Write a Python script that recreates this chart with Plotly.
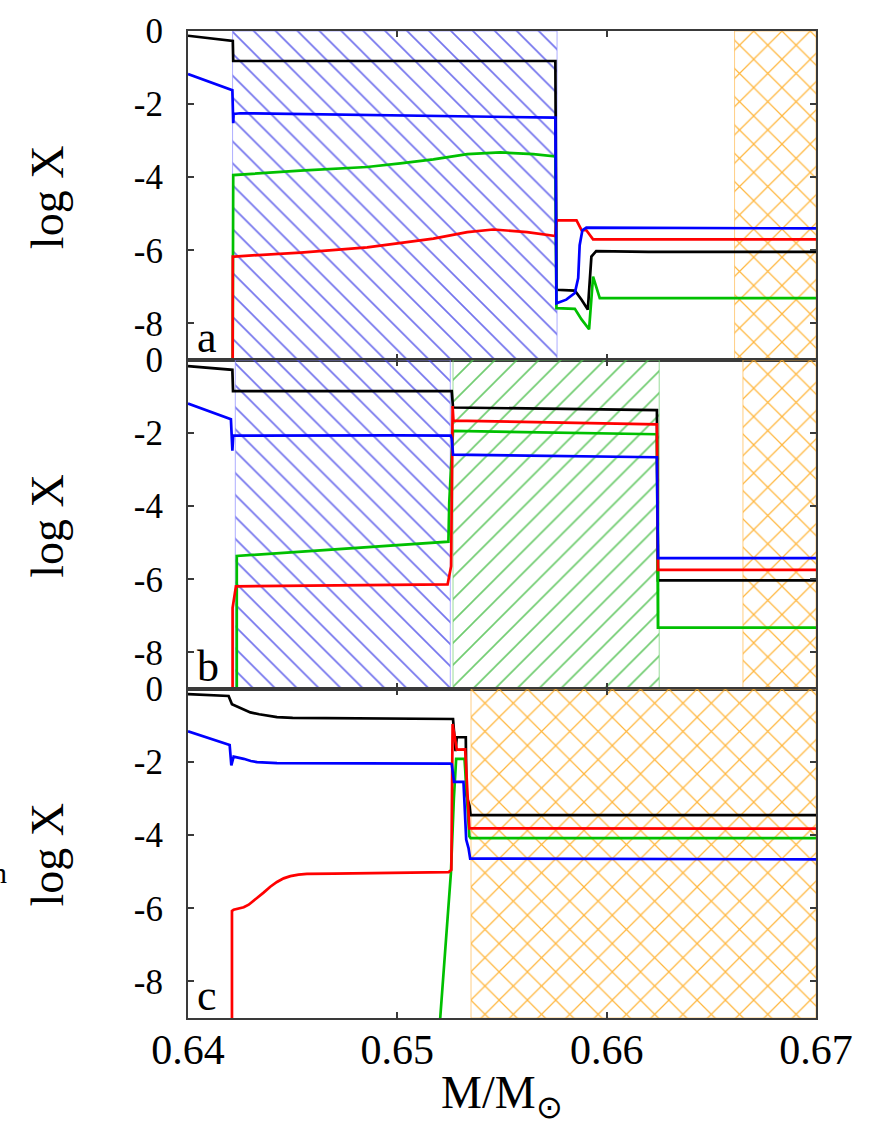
import plotly.graph_objects as go
from plotly.subplots import make_subplots

# ---- panel a: mass coordinate (M/Msun) and log X of each species ----
a_m_black = [0.6400, 0.64214, 0.64216, 0.6450, 0.6500, 0.65755, 0.6576, 0.65848, 0.6588, 0.6591, 0.65927, 0.6595, 0.6620, 0.6700]
a_x_black = [-0.13, -0.27, -0.82, -0.82, -0.82, -0.82, -7.08, -7.10, -7.35, -7.62, -6.17, -6.02, -6.04, -6.04]
a_m_blue = [0.6400, 0.64212, 0.64216, 0.64218, 0.6425, 0.6500, 0.65755, 0.6576, 0.65807, 0.65848, 0.65864, 0.65871, 0.65884, 0.65903, 0.6700]
a_x_blue = [-1.18, -1.62, -2.52, -2.27, -2.25, -2.30, -2.37, -7.45, -7.35, -7.17, -6.76, -5.86, -5.45, -5.38, -5.40]
a_m_red = [0.64213, 0.64214, 0.6422, 0.64538, 0.64856, 0.65014, 0.65172, 0.65334, 0.65458, 0.6562, 0.65755, 0.6576, 0.65856, 0.6588, 0.65903, 0.65935, 0.6700]
a_x_red = [-10.0, -6.17, -6.17, -6.06, -5.92, -5.79, -5.68, -5.50, -5.43, -5.50, -5.61, -5.18, -5.18, -5.45, -5.45, -5.70, -5.70]
a_m_green = [0.64213, 0.64216, 0.64536, 0.64855, 0.65014, 0.65172, 0.65334, 0.65492, 0.6565, 0.65755, 0.6576, 0.65848, 0.6588, 0.65916, 0.65935, 0.65967, 0.6700]
a_x_green = [-10.0, -3.94, -3.82, -3.72, -3.62, -3.51, -3.37, -3.32, -3.37, -3.43, -7.58, -7.60, -7.89, -8.16, -6.72, -7.31, -7.31]

# ---- panel b ----
b_m_black = [0.6400, 0.64197, 0.64212, 0.64215, 0.6526, 0.65266, 0.6624, 0.66245, 0.6700]
b_x_black = [-0.17, -0.26, -0.27, -0.85, -0.85, -1.30, -1.37, -6.03, -6.03]
b_m_blue = [0.6400, 0.64205, 0.64212, 0.64216, 0.6500, 0.65255, 0.6526, 0.65266, 0.6624, 0.66245, 0.6700]
b_x_blue = [-1.19, -1.62, -2.48, -2.07, -2.06, -2.07, -2.15, -2.59, -2.66, -5.42, -5.42]
b_m_red = [0.64213, 0.64213, 0.64229, 0.6524, 0.65257, 0.65264, 0.65268, 0.6624, 0.66245, 0.6700]
b_x_red = [-10.0, -6.78, -6.19, -6.14, -5.64, -1.26, -1.66, -1.76, -5.74, -5.74]
b_m_green = [0.64233, 0.64233, 0.65244, 0.65248, 0.65256, 0.65266, 0.6624, 0.66245, 0.6700]
b_x_green = [-10.0, -5.36, -4.97, -3.90, -3.00, -1.94, -2.03, -7.32, -7.32]

# ---- panel c ----
c_m_black = [0.6400, 0.64194, 0.6421, 0.64235, 0.64266, 0.64298, 0.6434, 0.64377, 0.64425, 0.6450, 0.65173, 0.65266, 0.65278, 0.65284, 0.65327, 0.6533, 0.65345, 0.6535, 0.6700]
c_x_black = [-0.14, -0.19, -0.42, -0.48, -0.55, -0.64, -0.69, -0.73, -0.77, -0.79, -0.81, -0.82, -1.70, -1.32, -1.32, -2.90, -3.20, -3.45, -3.45]
c_m_blue = [0.6400, 0.64199, 0.64207, 0.64218, 0.64266, 0.643, 0.6433, 0.64425, 0.65253, 0.6526, 0.65271, 0.65316, 0.65329, 0.6534, 0.65348, 0.6700]
c_x_blue = [-1.16, -1.53, -2.09, -1.85, -1.91, -1.97, -2.00, -2.03, -2.04, -2.06, -2.54, -2.54, -4.12, -4.35, -4.64, -4.66]
c_m_red = [0.6421, 0.6421, 0.64218, 0.64245, 0.64266, 0.6429, 0.64313, 0.64337, 0.64361, 0.64393, 0.64425, 0.64457, 0.64489, 0.64528, 0.64568, 0.64696, 0.65245, 0.65258, 0.65264, 0.65284, 0.65324, 0.65344, 0.6700]
c_x_red = [-10.0, -6.07, -6.04, -6.01, -5.97, -5.90, -5.80, -5.69, -5.57, -5.41, -5.28, -5.18, -5.12, -5.08, -5.06, -5.05, -5.01, -4.95, -0.96, -1.66, -1.65, -3.81, -3.82]
c_m_green = [0.65192, 0.65256, 0.6527, 0.65281, 0.65321, 0.65344, 0.6535, 0.6700]
c_x_green = [-10.0, -5.03, -3.0, -1.91, -1.91, -4.03, -4.08, -4.08]

# ---- hatched zones: [inner edge, outer edge] in M/Msun ----
a_zone_blue = [0.64213, 0.65763]
a_zone_orange = [0.66611, 0.6700]
b_zone_blue = [0.64226, 0.65253]
b_zone_green = [0.65266, 0.66251]
b_zone_orange = [0.66651, 0.6700]
c_zone_orange = [0.65352, 0.6700]

# ---- axes ----
m_range = [0.64, 0.67]
logx_range = [-9.0, 0.0]
y_ticks = [-8, -6, -4, -2, 0]
y_tick_text = ["-8", "-6", "-4", "-2", "0"]
x_ticks = [0.64, 0.65, 0.66, 0.67]
x_tick_text = ["0.64", "0.65", "0.66", "0.67"]
panel_tags = ["a", "b", "c"]

SERIF = "Liberation Serif"
FRAME = "#3a3a3a"
COLORS = {"black": "#000000", "blue": "#0000ff", "red": "#ff0000", "green": "#00c000"}

HATCH = {
    "blue": dict(shape="\\", fgcolor="#3c3ce6", size=15.5, solidity=0.11, opacity=0.72, edge="rgba(140,140,255,0.7)"),
    "green": dict(shape="/", fgcolor="#4cc04c", size=15.5, solidity=0.11, opacity=0.8, edge="rgba(110,205,110,0.7)"),
    "orange": dict(shape="x", fgcolor="#ffaa1e", size=20, solidity=0.12, opacity=0.85, edge="rgba(255,185,80,0.7)"),
}

fig = make_subplots(rows=3, cols=1, shared_xaxes=True, vertical_spacing=0)


def add_zone(row, zone, kind):
    h = HATCH[kind]
    x0, x1 = zone
    fig.add_trace(go.Scatter(
        x=[x0, x1, x1, x0, x0],
        y=[logx_range[0], logx_range[0], logx_range[1], logx_range[1], logx_range[0]],
        mode="lines", fill="toself", fillcolor="rgba(0,0,0,0)",
        fillpattern=dict(shape=h["shape"], fgcolor=h["fgcolor"], bgcolor="rgba(0,0,0,0)",
                         size=h["size"], solidity=h["solidity"], fgopacity=h["opacity"]),
        line=dict(color=h["edge"], width=1),
        hoverinfo="skip", showlegend=False), row=row, col=1)


def add_profile(row, m, x, color):
    fig.add_trace(go.Scatter(
        x=m, y=x, mode="lines",
        line=dict(color=COLORS[color], width=2.7),
        showlegend=False), row=row, col=1)


add_zone(1, a_zone_blue, "blue")
add_zone(1, a_zone_orange, "orange")
add_zone(2, b_zone_blue, "blue")
add_zone(2, b_zone_green, "green")
add_zone(2, b_zone_orange, "orange")
add_zone(3, c_zone_orange, "orange")

panels = [
    (1, a_m_black, a_x_black, a_m_green, a_x_green, a_m_red, a_x_red, a_m_blue, a_x_blue),
    (2, b_m_black, b_x_black, b_m_green, b_x_green, b_m_red, b_x_red, b_m_blue, b_x_blue),
    (3, c_m_black, c_x_black, c_m_green, c_x_green, c_m_red, c_x_red, c_m_blue, c_x_blue),
]
for row, mk, xk, mg, xg, mr, xr, mb, xb in panels:
    add_profile(row, mk, xk, "black")
    add_profile(row, mg, xg, "green")
    add_profile(row, mr, xr, "red")
    add_profile(row, mb, xb, "blue")

for row in (1, 2, 3):
    fig.update_xaxes(
        range=m_range, tickvals=x_ticks, ticktext=x_tick_text,
        showticklabels=(row == 3), ticks="inside", ticklen=6, tickwidth=1.5,
        tickcolor=FRAME, showline=True, linecolor=FRAME, linewidth=2,
        mirror="ticks", showgrid=False, zeroline=False,
        tickfont=dict(family=SERIF, size=42, color="#000"),
        ticklabelstandoff=-6, row=row, col=1)
    fig.update_yaxes(
        range=logx_range, tickvals=y_ticks, ticktext=y_tick_text,
        ticks="inside", ticklen=6, tickwidth=1.5, tickcolor=FRAME,
        showline=True, linecolor=FRAME, linewidth=2, mirror="ticks",
        showgrid=False, zeroline=False,
        tickfont=dict(family=SERIF, size=35, color="#000"),
        ticklabelstandoff=16, row=row, col=1)

annotations = []
label_y = [0.832, 0.499, 0.166]
tag_y = [0.6626, 0.3293, -0.004]
for i in range(3):
    annotations.append(dict(
        text="log X", textangle=-90, x=-0.224, y=label_y[i],
        xref="paper", yref="paper", xanchor="center", yanchor="middle",
        showarrow=False, font=dict(family=SERIF, size=46, color="#000")))
    annotations.append(dict(
        text=panel_tags[i], x=0.011, y=tag_y[i], xref="paper", yref="paper",
        xanchor="left", yanchor="bottom", showarrow=False,
        font=dict(family=SERIF, size=44, color="#000")))
annotations.append(dict(
    text="M/M<sub>⊙</sub>", x=0.5, y=-0.079, xref="paper", yref="paper",
    xanchor="center", yanchor="middle", showarrow=False,
    font=dict(family=SERIF, size=46, color="#000")))
annotations.append(dict(
    text="n", x=-0.285, y=0.147, xref="paper", yref="paper",
    xanchor="right", yanchor="middle", showarrow=False,
    font=dict(family=SERIF, size=30, color="#000")))

fig.update_layout(
    width=882, height=1128,
    margin=dict(l=188, r=66, t=28, b=110),
    paper_bgcolor="white", plot_bgcolor="white",
    annotations=annotations,
)

fig.write_html("out.html")
